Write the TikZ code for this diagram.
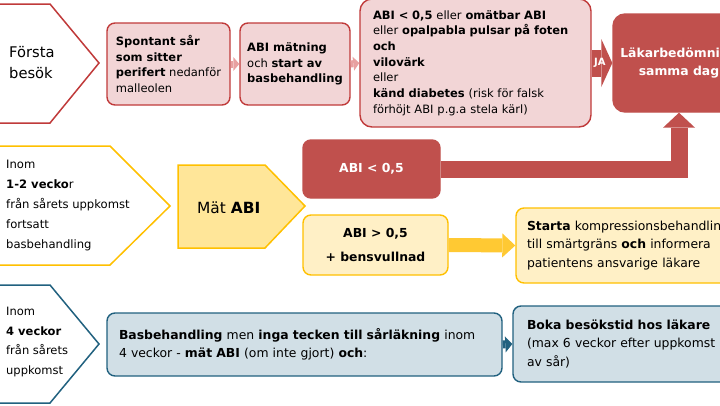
\documentclass[tikz,border=0pt]{standalone}
\usepackage{fontspec}
\setmainfont{DejaVu Sans}
\usetikzlibrary{arrows.meta}
\definecolor{redD}{HTML}{C0504D}
\definecolor{redB}{HTML}{C03A3A}
\definecolor{pinkF}{HTML}{F2D5D6}
\definecolor{pinkA}{HTML}{E8A0A0}
\definecolor{yelB}{HTML}{FFC000}
\definecolor{yelF}{HTML}{FFE699}
\definecolor{yelL}{HTML}{FFF0C6}
\definecolor{yelA}{HTML}{FFC933}
\definecolor{bluB}{HTML}{21617F}
\definecolor{bluF}{HTML}{D1DFE6}
\begin{document}
\begin{tikzpicture}[x=1pt,y=-1pt,
  box/.style={rounded corners=8pt, line width=1.4pt, inner xsep=2pt, inner ysep=2pt},
  pinkbox/.style={box, draw=redB, fill=pinkF, align=left, font=\fontsize{11.5}{15.7}\selectfont},
  redbox/.style={box, draw=redD, fill=redD, text=white, align=center, font=\bfseries\fontsize{12.4}{18}\selectfont},
  yelbox/.style={box, draw=yelB, fill=yelL, align=left, font=\fontsize{12.4}{18.5}\selectfont},
  blubox/.style={box, draw=bluB, fill=bluF, align=left, font=\fontsize{12.4}{17.5}\selectfont},
  chev/.style={line width=1.5pt, fill=white},
  lbl/.style={anchor=west, align=left, inner sep=0pt},
  blk/.style={line width=#1, line join=miter}
]
\useasboundingbox (0,0) rectangle (720,405);
\clip (0,0) rectangle (720,405);

% ---------- row 1 ----------
\draw[chev, draw=redB] (-5,4) -- (50,4) -- (99,63) -- (50,123) -- (-5,123) -- cycle;
\node[lbl, font=\fontsize{14.7}{21}\selectfont] (ch1) at (9,63) {Första\\besök};

\node[pinkbox, minimum width=123pt, minimum height=82pt] (spont) at (168.5,64)
  {\textbf{Spontant sår}\\\textbf{som sitter}\\\textbf{perifert} nedanför\\malleolen};
\node[pinkbox, minimum width=110pt, minimum height=82pt] (abim) at (295,64)
  {\textbf{ABI mätning}\\och \textbf{start av}\\\textbf{basbehandling}};
\node[pinkbox, minimum width=231pt, minimum height=128pt, text width=205pt, inner xsep=13pt, rounded corners=12pt] (big) at (475.5,63)
  {\textbf{ABI < 0,5} eller \textbf{omätbar ABI}\\
   eller \textbf{opalpabla pulsar på foten}\\
   \textbf{och}\\
   \textbf{vilovärk}\\
   eller\\
   \textbf{känd diabetes} (risk för falsk\\
   förhöjt ABI p.g.a stela kärl)};
\node[redbox, minimum width=132pt, minimum height=98pt, rounded corners=12pt] (lak) at (679,63)
  {Läkarbedömning\\samma dag};

\draw[blk=7pt, draw=pinkA, -{Triangle[width=14pt,length=6pt,line width=0pt]}] (spont.east) -- (abim.west);
\draw[blk=7pt, draw=pinkA, -{Triangle[width=14pt,length=6pt,line width=0pt]}] (abim.east) -- (big.west);
\draw[blk=27pt, draw=redD, -{Triangle[width=48pt,length=11pt,line width=0pt]}] (big.east) -- (lak.west)
  node[pos=0.4, text=white, font=\bfseries\fontsize{10}{12}\selectfont] (ja) {JA};

% ---------- row 2 ----------
\draw[chev, draw=yelB] (-5,146) -- (110,146) -- (170,206) -- (110,265) -- (-5,265) -- cycle;
\node[lbl, font=\fontsize{11.6}{20}\selectfont] (ch2) at (6,205)
  {Inom\\\textbf{1-2 vecko}r\\från sårets uppkomst\\fortsatt\\basbehandling};

\draw[line width=1.5pt, draw=yelB, fill=yelF] (178,165) -- (265,165) -- (305,206) -- (265,248) -- (178,248) -- cycle;
\node[lbl, font=\fontsize{15.4}{18}\selectfont] (mat) at (197,208) {Mät \textbf{ABI}};

\node[redbox, minimum width=137pt, minimum height=58pt] (abilow) at (371.5,169) {ABI < 0,5};
\node[yelbox, align=center, font=\bfseries\fontsize{12.4}{24}\selectfont, minimum width=145pt, minimum height=60pt] (abihigh) at (375.5,245)
  {ABI > 0,5\\+ bensvullnad};
\node[yelbox, minimum width=244pt, minimum height=75pt, text width=222pt, inner xsep=11pt] (starta) at (638,245.5)
  {\textbf{Starta} kompressionsbehandling\\till smärtgräns \textbf{och} informera\\patientens ansvarige läkare};

\draw[blk=17pt, draw=redD, -{Triangle[width=32pt,length=15pt,line width=0pt]}] (abilow.east) -| (lak.south);
\draw[blk=14pt, draw=yelA, -{Triangle[width=24pt,length=13pt,line width=0pt]}] (abihigh.east) -- (starta.west);

% ---------- row 3 ----------
\draw[chev, draw=bluB] (-5,285) -- (50,285) -- (99,344) -- (50,403) -- (-5,403) -- cycle;
\node[lbl, font=\fontsize{11.5}{19.5}\selectfont] (ch3) at (6,342)
  {Inom\\\textbf{4 veckor}\\från sårets\\uppkomst};

\node[blubox, minimum width=395pt, minimum height=63pt, text width=371pt, inner xsep=12pt] (bas) at (304.5,344.5)
  {\textbf{Basbehandling} men \textbf{inga tecken till sårläkning} inom\\4 veckor - \textbf{mät ABI} (om inte gjort) \textbf{och}:};
\node[blubox, minimum width=247pt, minimum height=76pt, text width=219pt, inner xsep=14pt, font=\fontsize{12.4}{18.5}\selectfont] (boka) at (636.5,344)
  {\textbf{Boka besökstid hos läkare}\\(max 6 veckor efter uppkomst\\av sår)};

\draw[blk=8pt, draw=bluB, -{Triangle[width=16pt,length=7pt,line width=0pt]}] (bas.east) -- (boka.west);
\end{tikzpicture}
\end{document}
